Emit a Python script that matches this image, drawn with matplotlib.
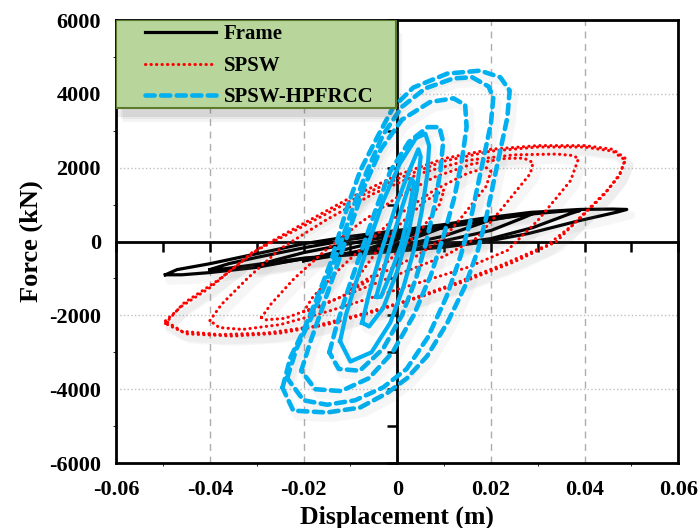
import numpy as np
import matplotlib

matplotlib.use("Agg")
import matplotlib.pyplot as plt
from matplotlib.lines import Line2D
from matplotlib.patches import Rectangle
from matplotlib.transforms import ScaledTranslation

plt.rcParams["font.family"] = ["Liberation Serif", "DejaVu Serif"]
plt.rcParams["font.weight"] = "bold"

# ----------------------------------------------------------------------
# hysteresis loops: list of (displacement [m], force [kN]) per cycle
# ----------------------------------------------------------------------
FRAME_LOOPS = [
    [(-0.0495, -900), (-0.047, -760), (-0.040, -600), (-0.030, -330), (-0.020, -60),
     (-0.010, 140), (0.000, 300), (0.010, 460), (0.0177, 620), (0.0284, 790),
     (0.039, 870), (0.046, 880), (0.049, 870), (0.047, 800), (0.039, 570),
     (0.028, 217), (0.0177, -27), (0.010, -150), (0.000, -260), (-0.010, -360),
     (-0.020, -460), (-0.030, -700), (-0.040, -840), (-0.046, -900), (-0.0495, -900)],
    [(-0.040, -760), (-0.036, -600), (-0.030, -430), (-0.020, -170), (-0.010, 60),
     (0.000, 240), (0.010, 420), (0.020, 600), (0.029, 750), (0.036, 830),
     (0.039, 840), (0.037, 760), (0.029, 380), (0.020, 80), (0.010, -100),
     (0.000, -230), (-0.010, -340), (-0.020, -450), (-0.030, -620), (-0.037, -740),
     (-0.040, -760)],
    [(-0.030, -650), (-0.026, -500), (-0.020, -300), (-0.010, -50), (0.000, 180),
     (0.010, 380), (0.020, 580), (0.026, 720), (0.029, 760), (0.027, 650),
     (0.020, 300), (0.010, 20), (0.000, -170), (-0.010, -320), (-0.020, -470),
     (-0.027, -610), (-0.030, -650)],
    [(-0.020, -520), (-0.016, -380), (-0.010, -180), (0.000, 120), (0.010, 380),
     (0.017, 560), (0.020, 600), (0.018, 500), (0.010, 150), (0.000, -130),
     (-0.010, -300), (-0.017, -460), (-0.020, -520)],
    [(-0.010, -320), (-0.006, -180), (0.000, 60), (0.006, 280), (0.010, 400),
     (0.008, 300), (0.000, -80), (-0.006, -230), (-0.010, -320)],
]

SPSW_LOOPS = [
    [(-0.0495, -2220), (-0.0457, -1680), (-0.0384, -1060), (-0.0292, -160),
     (-0.020, 490), (-0.010, 1190), (0.000, 1800), (0.010, 2250), (0.020, 2500),
     (0.030, 2600), (0.040, 2600), (0.046, 2500), (0.0487, 2250), (0.0476, 1840),
     (0.0448, 1380), (0.039, 650), (0.034, 0), (0.025, -550), (0.015, -1050),
     (0.005, -1500), (-0.005, -1900), (-0.015, -2250), (-0.025, -2480),
     (-0.035, -2560), (-0.045, -2500), (-0.0495, -2220)],
    [(-0.0495, -2150), (-0.046, -1750), (-0.040, -1250), (-0.031, -300),
     (-0.020, 420), (-0.010, 1100), (0.000, 1700), (0.010, 2180), (0.020, 2450),
     (0.030, 2560), (0.040, 2560), (0.046, 2450), (0.0487, 2200), (0.0472, 1750),
     (0.044, 1250), (0.038, 500), (0.032, -100), (0.022, -650), (0.012, -1150),
     (0.002, -1600), (-0.008, -1980), (-0.018, -2300), (-0.028, -2480),
     (-0.038, -2520), (-0.046, -2430), (-0.0495, -2150)],
    [(-0.040, -2140), (-0.0375, -1700), (-0.032, -1000), (-0.025, -200),
     (-0.015, 600), (-0.005, 1300), (0.005, 1850), (0.015, 2200), (0.025, 2350),
     (0.034, 2370), (0.0375, 2330), (0.0387, 2250), (0.037, 1650), (0.030, 570),
     (0.0235, -240), (0.015, -700), (0.005, -1100), (-0.005, -1500),
     (-0.015, -1900), (-0.025, -2250), (-0.033, -2380), (-0.038, -2330),
     (-0.040, -2140)],
    [(-0.029, -2060), (-0.027, -1700), (-0.022, -1000), (-0.015, -200),
     (-0.008, 500), (0.000, 1200), (0.008, 1750), (0.016, 2100), (0.023, 2250),
     (0.027, 2260), (0.029, 2140), (0.0284, 1840), (0.022, 840), (0.017, 100),
     (0.010, -400), (0.000, -900), (-0.010, -1400), (-0.018, -1800),
     (-0.024, -2080), (-0.028, -2120), (-0.029, -2060)],
    [(-0.020, -1900), (-0.018, -1500), (-0.012, -700), (-0.006, 0), (0.000, 700),
     (0.008, 1400), (0.015, 1850), (0.019, 2000), (0.020, 1900), (0.019, 1500),
     (0.014, 700), (0.010, 100), (0.004, -400), (-0.004, -900), (-0.012, -1500),
     (-0.018, -1850), (-0.020, -1900)],
    [(-0.010, -1300), (-0.008, -900), (-0.004, -200), (0.000, 400), (0.006, 1100),
     (0.010, 1400), (0.009, 1000), (0.005, 300), (0.000, -300), (-0.005, -900),
     (-0.010, -1300)],
]

HPFRCC_LOOPS = [
    [(-0.0245, -3960), (-0.0228, -3140), (-0.020, -2410), (-0.0171, -1520),
     (-0.0143, -600), (-0.0107, 920), (-0.0079, 1920), (-0.0043, 2820),
     (-0.0009, 3630), (0.0034, 4170), (0.0107, 4550), (0.0177, 4630),
     (0.0220, 4450), (0.0240, 4090), (0.0235, 3360), (0.0220, 2470),
     (0.0205, 1570), (0.0190, 650), (0.0172, -240), (0.0145, -1200),
     (0.0107, -2200), (0.0064, -3100), (0.0021, -3700), (-0.0021, -4100),
     (-0.0080, -4500), (-0.0150, -4630), (-0.0222, -4580), (-0.0245, -3960)],
    [(-0.0235, -3700), (-0.0215, -2900), (-0.0185, -2100), (-0.0155, -1200),
     (-0.0125, -200), (-0.0095, 900), (-0.0065, 1900), (-0.0030, 2900),
     (0.0010, 3650), (0.0060, 4150), (0.0120, 4420), (0.0160, 4450),
     (0.0195, 4200), (0.0205, 3900), (0.0200, 3200), (0.0185, 2300),
     (0.0170, 1400), (0.0155, 500), (0.0135, -400), (0.0105, -1500),
     (0.0065, -2600), (0.0020, -3450), (-0.0030, -3950), (-0.0090, -4300),
     (-0.0150, -4420), (-0.0200, -4300), (-0.0235, -3700)],
    [(-0.0205, -3500), (-0.0185, -2700), (-0.0160, -1800), (-0.0130, -700),
     (-0.0100, 400), (-0.0070, 1500), (-0.0035, 2500), (0.0010, 3300),
     (0.0070, 3780), (0.0120, 3880), (0.0145, 3700), (0.0148, 3100),
     (0.0138, 2200), (0.0122, 1200), (0.0100, 200), (0.0072, -900),
     (0.0035, -2000), (-0.0010, -3000), (-0.0060, -3700), (-0.0120, -4050),
     (-0.0175, -4000), (-0.0205, -3500)],
    [(-0.0145, -3000), (-0.0130, -2300), (-0.0105, -1300), (-0.0075, -200),
     (-0.0045, 900), (-0.0015, 1900), (0.0025, 2700), (0.0065, 3100),
     (0.0090, 3100), (0.0098, 2700), (0.0092, 1900), (0.0080, 1000),
     (0.0062, 0), (0.0040, -1000), (0.0010, -2000), (-0.0030, -2900),
     (-0.0080, -3500), (-0.0125, -3450), (-0.0145, -3000)],
]

# small cycles, plotted densely so the dashes close up
HPFRCC_SMALL_LOOPS = [
    [(-0.0122, -2700), (-0.0110, -2000), (-0.0088, -1100), (-0.0060, 0),
     (-0.0030, 1100), (0.0005, 2100), (0.0040, 2800), (0.0060, 2920),
     (0.0068, 2600), (0.0064, 1800), (0.0052, 800), (0.0036, -200),
     (0.0014, -1200), (-0.0015, -2200), (-0.0055, -3000), (-0.0100, -3250),
     (-0.0122, -2700)],
    [(-0.0075, -2200), (-0.0060, -1400), (-0.0035, -300), (-0.0005, 900),
     (0.0025, 1900), (0.0045, 2500), (0.0050, 2300), (0.0042, 1400),
     (0.0025, 300), (0.0000, -800), (-0.0030, -1800), (-0.0060, -2300),
     (-0.0075, -2200)],
    [(-0.0045, -1500), (-0.0030, -800), (-0.0010, 100), (0.0012, 1000),
     (0.0030, 1700), (0.0036, 1600), (0.0025, 800), (0.0008, -100),
     (-0.0015, -900), (-0.0035, -1500), (-0.0045, -1500)],
]

SERIES = ["Frame", "SPSW", "SPSW-HPFRCC"]

X_TICKS = [-0.06, -0.04, -0.02, 0.0, 0.02, 0.04, 0.06]
X_LABELS = ["-0.06", "-0.04", "-0.02", "0", "0.02", "0.04", "0.06"]
Y_TICKS = [-6000, -4000, -2000, 0, 2000, 4000, 6000]
Y_LABELS = ["-6000", "-4000", "-2000", "0", "2000", "4000", "6000"]

FRAME_STYLE = dict(color="black", lw=2.3, ls="-")
SPSW_STYLE = dict(color="#ff0000", lw=2.2, ls=(0, (0.1, 1.7)),
                  dash_capstyle="round")
HPFRCC_STYLE = dict(color="#00b0f0", lw=3.3, ls=(0, (2.0, 1.4)),
                    dash_capstyle="round")
HPFRCC_SMALL_STYLE = dict(color="#00b0f0", lw=3.0, ls="-")

POS = [0.166, 0.123, 0.803, 0.839]


def draw_loops(ax, loops, style, shadow_tr):
    for loop in loops:
        d, f = np.asarray(loop).T
        ax.plot(d, f, color="0.45", lw=6, alpha=0.06, transform=shadow_tr,
                solid_joinstyle="round", solid_capstyle="round")
        ax.plot(d, f, solid_joinstyle="round", **style)


fig = plt.figure(figsize=(7.0, 5.28), dpi=100)

# background axes: grid and the axes crossing at the origin
ax_bg = fig.add_axes(POS, zorder=0)
ax_bg.set_xlim(-0.06, 0.06)
ax_bg.set_ylim(-6000, 6000)
for side in ("top", "right"):
    ax_bg.spines[side].set_visible(False)
ax_bg.spines["left"].set_position(("data", 0))
ax_bg.spines["bottom"].set_position(("data", 0))
for side in ("left", "bottom"):
    ax_bg.spines[side].set_linewidth(2.0)
ax_bg.set_xticks(X_TICKS)
ax_bg.set_xticks(np.arange(-0.05, 0.06, 0.02), minor=True)
ax_bg.set_yticks(Y_TICKS)
ax_bg.set_yticks(np.arange(-5000, 6000, 2000), minor=True)
ax_bg.tick_params(which="both", direction="out", length=7, width=1.8,
                  labelleft=False, labelbottom=False)
ax_bg.grid(axis="x", which="major", color="0.68", ls=(0, (5, 4)), lw=1.0)
ax_bg.grid(axis="y", which="major", color="0.75", ls=":", lw=1.0)

# main axes: curves, frame, labels
ax = fig.add_axes(POS, zorder=1, sharex=ax_bg, sharey=ax_bg)
ax.patch.set_visible(False)
for s in ax.spines.values():
    s.set_linewidth(2.0)
ax.set_xticks(X_TICKS)
ax.set_xticklabels(X_LABELS)
ax.set_yticks(Y_TICKS)
ax.set_yticklabels(Y_LABELS)
ax.tick_params(length=0, labelsize=16)
ax.tick_params(axis="x", pad=12)
ax.tick_params(axis="y", pad=11)
ax.set_xlabel("Displacement (m)", fontsize=18.5, fontweight="bold")
ax.xaxis.set_label_coords(0.5, -0.097)
ax.set_ylabel("Force (kN)", fontsize=19, fontweight="bold", labelpad=4)

shadow_tr = ax.transData + ScaledTranslation(3 / 72, -4 / 72, fig.dpi_scale_trans)
draw_loops(ax, FRAME_LOOPS, FRAME_STYLE, shadow_tr)
draw_loops(ax, SPSW_LOOPS, SPSW_STYLE, shadow_tr)
draw_loops(ax, HPFRCC_LOOPS, HPFRCC_STYLE, shadow_tr)
draw_loops(ax, HPFRCC_SMALL_LOOPS, HPFRCC_SMALL_STYLE, shadow_tr)

# legend panel with a soft drop shadow
for k, a in enumerate([0.10, 0.08, 0.06]):
    ax.add_patch(Rectangle((0.004 + 0.004 * k, 0.782 - 0.006 * k), 0.497, 0.2,
                           transform=ax.transAxes, facecolor="0.3", alpha=a,
                           lw=0, zorder=4))
ax.add_patch(Rectangle((0.0, 0.801), 0.497, 0.199, transform=ax.transAxes,
                       facecolor="#b8d69c", edgecolor="#5b7a2b", lw=1.5,
                       zorder=5))
handles = [Line2D([], [], **FRAME_STYLE),
           Line2D([], [], **SPSW_STYLE),
           Line2D([], [], **HPFRCC_STYLE)]
leg = ax.legend(handles, SERIES, loc="upper left",
                bbox_to_anchor=(0.052, 0.99), frameon=False, borderpad=0,
                borderaxespad=0, handlelength=3.4, handletextpad=0.35,
                labelspacing=0.55, prop=dict(size=15, weight="bold"))
leg.set_zorder(6)

fig.savefig("out.png", dpi=100)
